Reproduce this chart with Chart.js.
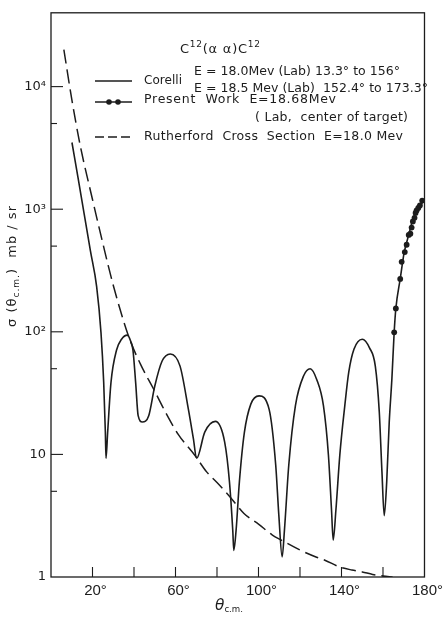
<!DOCTYPE html>
<html><head><meta charset="utf-8">
<script src="https://cdn.jsdelivr.net/npm/chart.js@4.4.1/dist/chart.umd.min.js"></script>
<style>html,body{margin:0;padding:0;background:#fff;overflow:hidden}</style>
</head><body>
<canvas id="c" width="445" height="617" style="display:block;width:445px;height:617px"></canvas>
<script>
// ---- data ----
const corelliAngles = [10.1,13,16,19,22,24.1,25.4,26.2,26.5,27.3,28.9,31.6,34,36.8,38.5,39.5,40.8,42,44,47.1,50,53.5,57.5,62.2,66.2,68.6,70.2,74.1,79.2,83.7,86,87.6,88.1,89.2,90.8,93.2,96.3,100.3,105.1,108.3,109.8,111.4,112.5,114.6,117.8,121.7,124.9,128.1,131.3,133.7,135.2,136,137.3,139.2,141.6,143.5,146,150,153.5,156.3,158.2,159.5,160.6,161.8,163,164.3,165.4,166.2,168.3,170.2,172.4,174.1,176,178,180];
const corelliValues = [3500,1820,912,457,234,98,38.5,15.1,9.3,15.1,38.5,71,87,94,83,71,38.5,20.7,18.4,20.7,36,57.5,66,52.5,23.4,13.5,9.3,15.2,18.6,12.6,6.0,2.4,1.65,2.4,6.0,15.1,25.7,30,23.4,8.2,3.2,1.46,2.4,8.2,25,43.6,50,40.7,25,9.9,3.5,2.0,3.5,9.9,25,46.8,72,87,74,52.5,22.4,7.2,3.16,6.0,18.2,41.7,100,155,270,442,617,794,955,1070,1200];

const presentAngles = [165.4,166.2,168.3,169,170.5,171.4,172.4,173.2,173.8,174.4,175.2,175.7,176.2,177,177.8,178.9];
const presentValues = [99,155,270,372,447,513,617,631,708,794,851,933,977,1023,1072,1175];

const rutherfordAngles = [6.2,10,14.1,20,25,30,37.3,43,49.5,55,61.4,69.4,75,80,86.3,93,100,106.7,111,120,128,132,139,145,150,155,160,164.6];
const rutherfordValues = [20000,7900,3300,1200,525,240,93,55,34,22.4,14.5,9.8,7.2,5.9,4.5,3.3,2.7,2.2,2.0,1.66,1.45,1.37,1.21,1.14,1.10,1.05,1.02,1.0];

const xTickValues = [20,40,60,80,100,120,140,160];
const xLabelValues = [20,60,100,140,180];
const yTickValues = [1,5,10,50,100,500,1000,5000,10000];
const yTickLabels = {1:'1',10:'10',100:'10²',1000:'10³',10000:'10⁴'};

const FONT = '"Liberation Sans", "DejaVu Sans", sans-serif';
const TFONT = '"DejaVu Sans", "Liberation Sans", sans-serif';
const INK = '#1c1c1c';

function pts(xs, ys){ return xs.map((x,i)=>({x:x, y:ys[i]})); }

// draw a run of text pieces starting at x, vertically centred on y, spread to a target width
function drawRun(ctx, parts, x, y, targetW){
  ctx.save();
  const hasLS = ('letterSpacing' in ctx);
  if (hasLS) ctx.letterSpacing = '0px';
  let total = 0, nChars = 0;
  parts.forEach(p=>{ ctx.font = (p.italic?'italic ':'') + p.size+'px '+TFONT; p.w = ctx.measureText(p.t).width; total += p.w; nChars += [...p.t].length; });
  let sx = 1, ls = 0;
  if (targetW) {
    if (targetW >= total && hasLS) ls = (targetW-total)/Math.max(1,nChars-1);
    else sx = targetW/total;
  }
  ctx.translate(x, y);
  ctx.scale(sx, 1);
  ctx.fillStyle = INK;
  ctx.textBaseline = 'middle';
  ctx.textAlign = 'left';
  if (hasLS) ctx.letterSpacing = ls+'px';
  let cx = 0;
  parts.forEach(p=>{
    ctx.font = (p.italic?'italic ':'') + p.size+'px '+TFONT;
    ctx.fillText(p.t, cx, p.dy||0);
    cx += p.w + ls*[...p.t].length;
  });
  ctx.restore();
}

const decor = {
  id:'decor',
  beforeDraw(chart){
    const c = chart.ctx; c.save(); c.fillStyle='#fff'; c.fillRect(0,0,chart.width,chart.height); c.restore();
  },
  afterDraw(chart){
    const ctx = chart.ctx, a = chart.chartArea;
    const xs = chart.scales.x, ys = chart.scales.y;
    ctx.save();
    ctx.strokeStyle = INK;
    // frame
    ctx.lineWidth = 1.3;
    ctx.strokeRect(a.left, a.top, a.right-a.left, a.bottom-a.top);
    // inward ticks
    ctx.lineWidth = 1.1;
    yTickValues.forEach(v=>{
      if (v===1) return;
      const py = ys.getPixelForValue(v);
      const major = yTickLabels[v] !== undefined;
      ctx.beginPath(); ctx.moveTo(a.left, py); ctx.lineTo(a.left + (major?12:6), py); ctx.stroke();
    });
    xTickValues.forEach(v=>{
      const px = xs.getPixelForValue(v);
      ctx.beginPath(); ctx.moveTo(px, a.bottom); ctx.lineTo(px, a.bottom-10); ctx.stroke();
    });
    // axis titles
    drawRun(ctx, [{t:'θ',size:16,italic:true},{t:'c.m.',size:9,dy:4}], 215, 606, 28);
    ctx.save();
    ctx.translate(13, 267);
    ctx.rotate(-Math.PI/2);
    drawRun(ctx, [{t:'σ (θ',size:13},{t:'c.m.',size:9,dy:4},{t:')  mb / sr',size:13}], -60, 0, 121);
    ctx.restore();
    // legend / annotation block
    drawRun(ctx, [{t:'C',size:13},{t:'12',size:9,dy:-5},{t:'(α α)C',size:13},{t:'12',size:9,dy:-5}], 180, 50, 80);
    drawRun(ctx, [{t:'Corelli',size:12}], 144, 81, 38);
    drawRun(ctx, [{t:'E = 18.0Mev (Lab) 13.3° to 156°',size:12.5}], 194, 72, 206);
    drawRun(ctx, [{t:'E = 18.5 Mev (Lab)  152.4° to 173.3°',size:12.5}], 194, 89, 234);
    drawRun(ctx, [{t:'Present  Work  E=18.68Mev',size:12.5}], 144, 100, 192);
    drawRun(ctx, [{t:'( Lab,  center of target)',size:12.5}], 255, 118, 153);
    drawRun(ctx, [{t:'Rutherford  Cross  Section  E=18.0 Mev',size:12.5}], 144, 137, 259);
    // legend samples
    ctx.lineWidth = 1.5;
    ctx.beginPath(); ctx.moveTo(95,81); ctx.lineTo(132,81); ctx.stroke();
    ctx.beginPath(); ctx.moveTo(95,102); ctx.lineTo(132,102); ctx.stroke();
    ctx.fillStyle = INK;
    [109,118].forEach(px=>{ ctx.beginPath(); ctx.arc(px,102,2.8,0,Math.PI*2); ctx.fill(); });
    ctx.setLineDash([9,4]);
    ctx.beginPath(); ctx.moveTo(95,137); ctx.lineTo(133,137); ctx.stroke();
    ctx.restore();
  }
};

new Chart(document.getElementById('c'), {
  type:'scatter',
  data:{ datasets:[
    { label:'Corelli', data:pts(corelliAngles, corelliValues), showLine:true, borderColor:INK, borderWidth:1.6,
      pointRadius:0, cubicInterpolationMode:'monotone', fill:false },
    { label:'Rutherford Cross Section E=18.0 Mev', data:pts(rutherfordAngles, rutherfordValues), showLine:true, borderColor:INK,
      borderWidth:1.5, borderDash:[14,6], pointRadius:0, cubicInterpolationMode:'monotone', fill:false },
    { label:'Present Work E=18.68Mev', data:pts(presentAngles, presentValues), showLine:false,
      pointRadius:2.9, pointBackgroundColor:INK, pointBorderColor:INK, pointBorderWidth:0 }
  ]},
  options:{
    responsive:false, animation:false, devicePixelRatio:1,
    layout:{ padding:{ left:0, right:16, top:5, bottom:0 } },
    plugins:{ legend:{display:false}, tooltip:{enabled:false} },
    scales:{
      x:{ type:'linear', min:0, max:180,
        afterBuildTicks:s=>{ s.ticks = [0].concat(xTickValues, [180]).map(v=>({value:v})); },
        afterFit:s=>{ s.height = 40; },
        grid:{ display:false, drawTicks:false }, border:{display:false},
        ticks:{ autoSkip:false, maxRotation:0, padding:5, labelOffset:3, color:INK, font:{family:FONT, size:15},
          callback:v=> xLabelValues.includes(v) ? v+'°' : '' } },
      y:{ type:'logarithmic', min:1, max:40000,
        afterBuildTicks:s=>{ s.ticks = yTickValues.map(v=>({value:v})); },
        afterFit:s=>{ s.width = 51; },
        grid:{ display:false, drawTicks:false }, border:{display:false},
        ticks:{ autoSkip:false, padding:5, color:INK, font:{family:TFONT, size:13},
          callback:v=> yTickLabels[v] !== undefined ? yTickLabels[v] : '' } }
    }
  },
  plugins:[decor]
});
</script>
</body></html>
